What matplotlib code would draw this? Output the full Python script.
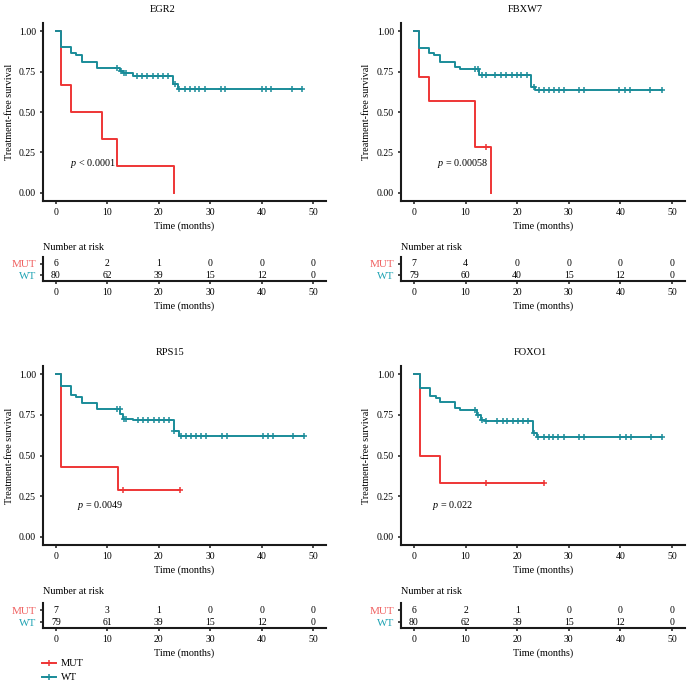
import numpy as np
import matplotlib
matplotlib.use("Agg")
import matplotlib.pyplot as plt
from matplotlib.lines import Line2D

plt.rcParams["font.family"] = ["Liberation Serif", "DejaVu Serif"]
plt.rcParams["mathtext.fontset"] = "custom"
plt.rcParams["mathtext.rm"] = "Liberation Serif"
plt.rcParams["mathtext.it"] = "Liberation Serif:italic"

W, H = 689, 682
RED = "#EE3535"
TEAL = "#1A8C99"
RED_LBL = "#F06262"
TEAL_LBL = "#1FA3B3"

genes = ["EGR2", "FBXW7", "RPS15", "FOXO1"]
pvals = [r"$p$ < 0.0001", r"$p$ = 0.00058", r"$p$ = 0.0049", r"$p$ = 0.022"]
pval_pos = [(2.7, 0.18), (4.5, 0.18), (4.1, 0.19), (3.5, 0.19)]

# WT curves: event times, survival after each event, censor times
wt_times = [
    [1, 3, 4, 5, 8, 12.5, 13, 15, 22.7, 23.8],
    [1, 2.9, 3.9, 5, 7.9, 9, 12.7, 22.7, 23.5],
    [1, 3, 4, 5, 8, 12.5, 13, 15, 22.9, 23.9],
    [1.1, 3.1, 4.2, 5, 8, 9, 12.2, 12.9, 13.8, 23, 23.8],
]
wt_surv = [
    [0.90, 0.866, 0.85, 0.81, 0.775, 0.753, 0.74, 0.72, 0.67, 0.645],
    [0.897, 0.866, 0.85, 0.81, 0.78, 0.763, 0.73, 0.656, 0.635],
    [0.926, 0.87, 0.86, 0.825, 0.784, 0.757, 0.727, 0.716, 0.65, 0.618],
    [0.912, 0.865, 0.855, 0.83, 0.79, 0.78, 0.75, 0.72, 0.71, 0.64, 0.615],
]
wt_cens = [
    [11.9, 12.7, 13.2, 13.7, 15.8, 16.8, 17.8, 18.8, 19.8, 20.8, 21.8, 23.1,
     24, 25, 26, 27, 27.9, 28.9, 32, 32.9, 40, 40.8, 41.9, 45.9, 47.9],
    [11.8, 12.5, 13.2, 13.9, 15.8, 16.9, 17.9, 18.9, 19.9, 20.8, 21.9, 23.2,
     24.2, 25.2, 26.1, 27.1, 28.1, 29, 31.9, 32.9, 39.8, 40.8, 41.8, 45.8, 48.1],
    [11.9, 12.4, 13.2, 13.6, 16, 16.9, 18, 19, 20, 21, 21.9, 23,
     24.4, 25.3, 26.3, 27.3, 28.2, 29.2, 32.3, 33.2, 40.3, 41.3, 42.2, 46.1, 48.3],
    [11.9, 12.4, 13.2, 14, 16.1, 17.2, 18.1, 19.1, 20.1, 21.1, 22.1, 23.2,
     24.1, 25.1, 26.1, 27, 28, 29, 32, 32.9, 40, 41, 42, 46, 48.1],
]

mut_times = [[1, 2.9, 8.9, 11.9, 22.9], [1, 2.9, 11.8, 14.9], [1, 12], [1.1, 5]]
mut_surv = [[0.667, 0.5, 0.333, 0.167, 0.0], [0.714, 0.571, 0.286, 0.0],
            [0.429, 0.286], [0.5, 0.333]]
mut_cens = [[], [13.9], [13, 24.2], [14, 25.1]]

risk_times = [0, 10, 20, 30, 40, 50]
risk_mut = [[6, 2, 1, 0, 0, 0], [7, 4, 0, 0, 0, 0], [7, 3, 1, 0, 0, 0], [6, 2, 1, 0, 0, 0]]
risk_wt = [[80, 62, 39, 15, 12, 0], [79, 60, 40, 15, 12, 0],
           [79, 61, 39, 15, 12, 0], [80, 62, 39, 15, 12, 0]]

fig = plt.figure(figsize=(W / 100, H / 100), dpi=100)


def px_axes(x0, y0, x1, y1):
    return fig.add_axes([x0 / W, 1 - y1 / H, (x1 - x0) / W, (y1 - y0) / H])


def style(ax):
    for s in ["top", "right"]:
        ax.spines[s].set_visible(False)
    for s in ["left", "bottom"]:
        ax.spines[s].set_linewidth(1.5)
        ax.spines[s].set_color("#1a1a1a")
    ax.tick_params(length=2.5, width=1.1, color="#1a1a1a", labelsize=7, pad=2.5)


def km(ax, times, surv, cens, color, z):
    t = np.r_[0, times]
    s = np.r_[1.0, surv]
    if cens and max(cens) > t[-1]:
        t = np.r_[t, max(cens)]
        s = np.r_[s, s[-1]]
    ax.step(t, s, where="post", color=color, lw=1.4, zorder=z)
    if cens:
        c = np.array(cens)
        idx = np.searchsorted(t, c, side="right") - 1
        ax.plot(c, s[idx], ls="none", marker="+", ms=4.5, mew=1.1, color=color, zorder=z)


cols = [(43, 326), (401, 685)]
ylab_x = [14, 371]
rows = [(23, 201, 257, 281, 5, 247), (366, 545, 603, 628, 348, 591)]
title_x = [163, 525, 170, 530]

for i, g in enumerate(genes):
    x0, x1 = cols[i % 2]
    my0, my1, ry0, ry1, ty, ny = rows[i // 2]

    ax = px_axes(x0, my0, x1, my1)
    km(ax, mut_times[i], mut_surv[i], mut_cens[i], RED, 3)
    km(ax, wt_times[i], wt_surv[i], wt_cens[i], TEAL, 4)
    ax.set_xlim(-2.5, 52.5)
    ax.set_ylim(-0.05, 1.05)
    ax.set_xticks(risk_times)
    ax.set_yticks([0, 0.25, 0.5, 0.75, 1.0])
    ax.set_yticklabels(["0.00", "0.25", "0.50", "0.75", "1.00"])
    style(ax)
    ax.set_xlabel("Time (months)", fontsize=7.3, labelpad=3)
    ax.set_ylabel("Treatment-free survival", fontsize=7.3)
    ax.yaxis.set_label_coords(-(x0 - ylab_x[i % 2]) / (x1 - x0), 0.5)
    ax.text(pval_pos[i][0], pval_pos[i][1], pvals[i], fontsize=7.3, va="center")
    fig.text(title_x[i] / W, 1 - ty / H, g, fontsize=7.5, ha="center", va="top")

    rx = px_axes(x0, ry0, x1, ry1)
    for t, m, w in zip(risk_times, risk_mut[i], risk_wt[i]):
        rx.text(t, 2, str(m), ha="center", va="center", fontsize=7)
        rx.text(t, 1, str(w), ha="center", va="center", fontsize=7)
    rx.set_xlim(-2.5, 52.5)
    rx.set_ylim(0.5, 2.6)
    rx.set_xticks(risk_times)
    rx.set_yticks([2, 1])
    rx.set_yticklabels(["MUT", "WT"])
    style(rx)
    rx.get_yticklabels()[0].set_color(RED_LBL)
    rx.get_yticklabels()[1].set_color(TEAL_LBL)
    rx.tick_params(axis="y", labelsize=8)
    rx.set_xlabel("Time (months)", fontsize=7.3, labelpad=3)
    fig.text(x0 / W, 1 - ny / H, "Number at risk", fontsize=7.3, va="center")

handles = [
    Line2D([], [], color=RED, lw=1.4, marker="+", ms=4.5, mew=1.1),
    Line2D([], [], color=TEAL, lw=1.4, marker="+", ms=4.5, mew=1.1),
]
fig.legend(handles, ["MUT", "WT"], loc="upper left", bbox_to_anchor=(38 / W, 1 - 655 / H),
           frameon=False, fontsize=7.5, handlelength=1.3, handletextpad=0.5,
           labelspacing=0.45, borderaxespad=0)

fig.savefig("out.png", dpi=100)
